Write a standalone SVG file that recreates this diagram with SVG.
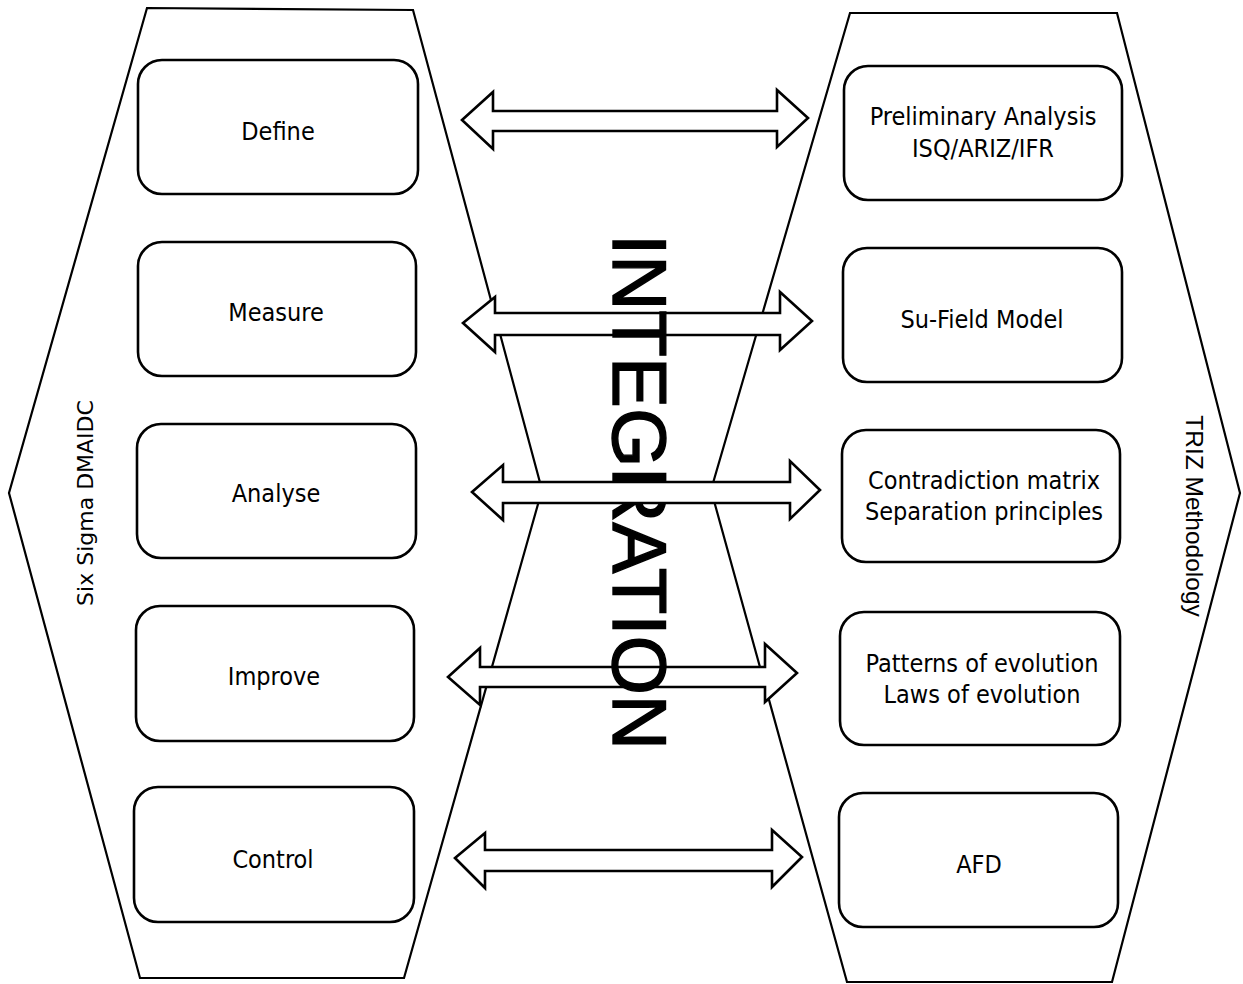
<svg xmlns="http://www.w3.org/2000/svg" width="1243" height="984" viewBox="0 0 1243 984">
<style>
.hex{fill:none;stroke:#000;stroke-width:2.2;stroke-linejoin:miter}
.box{fill:#fff;stroke:#000;stroke-width:2.6}
.arr{fill:#fff;stroke:#000;stroke-width:2.6;stroke-linejoin:miter}
.t{font-family:"DejaVu Sans Condensed","DejaVu Sans",Verdana,sans-serif;font-stretch:condensed;font-size:25px;text-anchor:middle;fill:#000}
.side1{font-family:"DejaVu Sans",Verdana,sans-serif;font-size:22px;text-anchor:middle;fill:#000}
.side2{font-family:"Liberation Sans",Arial,sans-serif;font-size:24.5px;text-anchor:middle;fill:#000}
.big{font-family:"Liberation Sans",Arial,sans-serif;font-size:76px;fill:#000;stroke:#000;stroke-width:1.4}
</style>
<rect width="1243" height="984" fill="#fff"/>
<g id="six-sigma">
<polygon class="hex" points="147,8 413,10 542,490 404,978 140,978 9,493"/>
<text class="side1" transform="translate(93,503) rotate(-90)">Six Sigma DMAIDC</text>
</g>
<g id="triz">
<polygon class="hex" points="850,13 1117,13 1240,493 1112,982 847,982 711,490"/>
<text class="side2" transform="translate(1186,516) rotate(90)">TRIZ Methodology</text>
</g>
<g id="connectors-under">
<path class="arr" d="M462,120 L493,92 L493,111 L777,111 L777,90 L808,118 L777,147 L777,131 L493,131 L493,149 Z"/>
<path class="arr" d="M463,323 L495,297 L495,313 L780,313 L780,292 L812,321 L780,350 L780,335 L495,335 L495,352 Z"/>
<path class="arr" d="M448,677 L480,648 L480,667 L765,667 L765,644 L797,673 L765,702 L765,687 L480,687 L480,705 Z"/>
<path class="arr" d="M455,858 L485,833 L485,850 L772,850 L772,830 L802,857 L772,887 L772,871 L485,871 L485,888 Z"/>
</g>
<g id="integration">
<text class="big" transform="translate(613,234) rotate(90)" textLength="516" lengthAdjust="spacingAndGlyphs">INTEGRATION</text>
</g>
<g id="connectors">
<path class="arr" d="M472,492 L503,465 L503,482 L790,482 L790,461 L820,490 L790,519 L790,503 L503,503 L503,520 Z"/>
</g>
<g id="define"><rect class="box" x="138" y="60" width="280" height="134" rx="24"/><text class="t" x="278" y="140">Define</text></g>
<g id="measure"><rect class="box" x="138" y="242" width="278" height="134" rx="24"/><text class="t" x="276" y="321">Measure</text></g>
<g id="analyse"><rect class="box" x="137" y="424" width="279" height="134" rx="24"/><text class="t" x="276" y="502">Analyse</text></g>
<g id="improve"><rect class="box" x="136" y="606" width="278" height="135" rx="24"/><text class="t" x="274" y="685">Improve</text></g>
<g id="control"><rect class="box" x="134" y="787" width="280" height="135" rx="24"/><text class="t" x="273" y="868">Control</text></g>
<g id="preliminary"><rect class="box" x="844" y="66" width="278" height="134" rx="24"/><text class="t" x="983" y="125">Preliminary Analysis</text><text class="t" x="983" y="157">ISQ/ARIZ/IFR</text></g>
<g id="su-field"><rect class="box" x="843" y="248" width="279" height="134" rx="24"/><text class="t" x="982" y="328">Su-Field Model</text></g>
<g id="contradiction"><rect class="box" x="842" y="430" width="278" height="132" rx="24"/><text class="t" x="984" y="489">Contradiction matrix</text><text class="t" x="984" y="520">Separation principles</text></g>
<g id="patterns"><rect class="box" x="840" y="612" width="280" height="133" rx="24"/><text class="t" x="982" y="672">Patterns of evolution</text><text class="t" x="982" y="703">Laws of evolution</text></g>
<g id="afd"><rect class="box" x="839" y="793" width="279" height="134" rx="24"/><text class="t" x="979" y="873">AFD</text></g>
</svg>
